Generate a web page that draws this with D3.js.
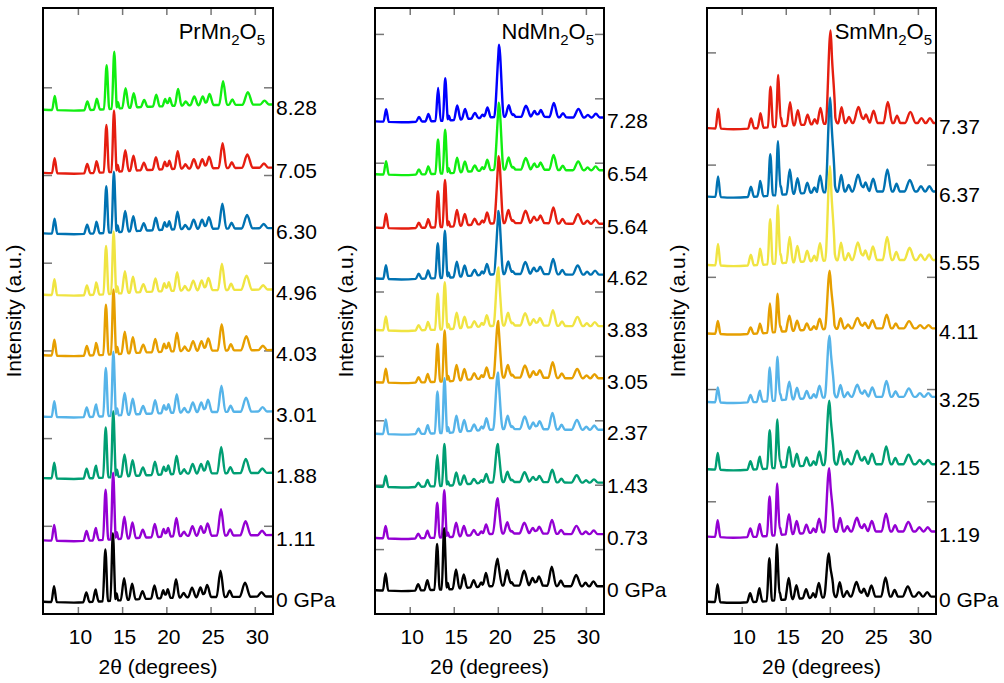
<!DOCTYPE html>
<html><head><meta charset="utf-8">
<script src="https://cdn.jsdelivr.net/npm/d3@7"></script>
<style>body{margin:0;background:#fff} text{font-family:"Liberation Sans",Arial,Helvetica,sans-serif;fill:#000}</style>
</head><body><svg id="chart" width="1004" height="683"></svg>
<script>
// ---------- shared ----------
const xTicks = [10, 15, 20, 25, 30];

// ---------- PrMn2O5 ----------
const prLabels = ["0 GPa", "1.11", "1.88", "3.01", "4.03", "4.96", "6.30", "7.05", "8.28"];
const prColors = ["#000000", "#9400d3", "#009e73", "#56b4e9", "#e69f00", "#f0e442", "#0072b2", "#e51e10", "#11ee11"];
const prOffsets = [14, 84, 155, 225, 295, 364, 434, 503, 575];
const prStrain = [0, 0.002, 0.003, 0.004, 0.005, 0.006, 0.008, 0.009, 0.011];
const prMinorScale = [1, 1, 1, 1, 1, 1, 0.95, 0.95, 0.9];
const prPeakPos = [7.25, 10.9, 11.95, 14.32, 15.17, 16.08, 17.25, 18.6, 19.6, 20.1, 21.04, 21.9, 22.85, 23.8, 24.56, 26.07, 27.1, 28.84, 30.7];
const prPeakHeight = [18, 11, 14, 8, 25, 18, 9, 15, 9, 10, 21, 5, 11, 11, 14, 30, 7, 16, 5];
const prPeakWidth = [0.3, 0.35, 0.35, 0.18, 0.38, 0.38, 0.38, 0.38, 0.32, 0.32, 0.38, 0.38, 0.45, 0.45, 0.45, 0.45, 0.38, 0.6, 0.5];
const prMainPos = [13.05, 13.9];
const prMainWidth = [0.3, 0.28];
const prMainHeights = [[59, 77], [57, 76], [57, 75], [55, 73], [57, 74], [55, 71], [53, 69], [54, 70], [50, 65]];
const prBgX = [6, 9.5, 12, 17, 22, 32];
const prBgY = [0, -1, 0, 3, 5, 6];

// ---------- NdMn2O5 ----------
const ndLabels = ["0 GPa", "0.73", "1.43", "2.37", "3.05", "3.83", "4.62", "5.64", "6.54", "7.28"];
const ndColors = ["#000000", "#9400d3", "#009e73", "#56b4e9", "#e69f00", "#f0e442", "#0072b2", "#e51e10", "#11ee11", "#0000ff"];
const ndOffsets = [37, 118, 198, 280, 360, 441, 521, 600, 683, 765];
const ndStrain = [0, 0.001, 0.002, 0.003, 0.004, 0.005, 0.006, 0.007, 0.008, 0.009];
const ndMinorScale = [1.1, 0.8, 0.72, 0.95, 0.9, 0.9, 0.88, 0.92, 0.86, 0.82];
const ndPeakPos = [7.2, 10.9, 11.95, 14.26, 15.2, 16.08, 17.2, 18.05, 18.6, 21.0, 21.5, 22.93, 23.9, 24.6, 26.07, 27.1, 28.84, 29.9, 30.8];
const ndPeakHeight = [24, 9, 14, 9, 27, 19, 10, 6, 19, 22, 5, 21, 11, 13, 27, 8, 16, 5, 7];
const ndPeakWidth = [0.3, 0.35, 0.35, 0.18, 0.38, 0.38, 0.38, 0.3, 0.38, 0.42, 0.3, 0.55, 0.45, 0.45, 0.5, 0.38, 0.6, 0.38, 0.45];
const ndMainPos = [13.05, 13.85, 19.9];
const ndMainWidth = [0.3, 0.28, 0.55];
const ndMainHeights = [[71, 95, 42], [54, 73, 55], [48, 65, 59], [65, 85, 88], [59, 79, 88], [56, 73, 90], [54, 73, 98], [56, 73, 104], [53, 68, 104], [51, 66, 112]];
const ndBgX = [6, 9, 12, 14.5, 17, 20, 25, 28, 32];
const ndBgY = [0, -1.5, 0, 1.5, 4.5, 7, 7, 6, 6];

// ---------- SmMn2O5 ----------
const smLabels = ["0 GPa", "1.19", "2.15", "3.25", "4.11", "5.55", "6.37", "7.37"];
const smColors = ["#000000", "#9400d3", "#009e73", "#56b4e9", "#e69f00", "#f0e442", "#0072b2", "#e51e10"];
const smOffsets = [11, 69, 129, 189, 250, 311, 372, 433];
const smStrain = [0, 0.002, 0.003, 0.004, 0.005, 0.007, 0.008, 0.01];
const smMinorScale = [1, 0.94, 0.93, 0.83, 0.72, 1.2, 1.15, 1.1];
const smPeakPos = [7.2, 10.9, 11.95, 14.26, 15.28, 16.15, 17.25, 18.05, 18.7, 20.3, 21.07, 21.9, 22.97, 23.8, 24.67, 26.27, 27.3, 28.8, 30.05, 31.0];
const smPeakHeight = [16, 8, 12, 7, 19, 12, 8, 4, 13, 6, 13, 5, 13, 7, 10, 17, 6, 9, 4, 4];
const smPeakWidth = [0.3, 0.35, 0.35, 0.18, 0.38, 0.38, 0.38, 0.3, 0.38, 0.3, 0.38, 0.38, 0.6, 0.45, 0.45, 0.5, 0.38, 0.6, 0.45, 0.45];
const smMainPos = [13.08, 13.95, 19.83];
const smMainWidth = [0.3, 0.28, 0.55];
const smMainHeights = [[38, 50, 39], [35, 46, 57], [34, 43, 57], [30, 39, 55], [26, 34, 52], [40, 52, 84], [37, 48, 84], [36, 46, 83]];
const smBgX = [6, 9, 12, 15, 18, 22, 32];
const smBgY = [0, -1, 0, 2, 3.5, 4.5, 4.5];

// ---------- layout ----------
const frameTop = 8, frameBottom = 614;
const panels = [
  {name: "Pr", x0: 43, x1: 273, yMax: 691, titleX: 265, labels: prLabels, colors: prColors, offsets: prOffsets, strain: prStrain, minor: prMinorScale,
   peakPos: prPeakPos, peakH: prPeakHeight, peakW: prPeakWidth, mainPos: prMainPos, mainW: prMainWidth, mainH: prMainHeights, bgX: prBgX, bgY: prBgY},
  {name: "Nd", x0: 375, x1: 604, yMax: 941, titleX: 594, labels: ndLabels, colors: ndColors, offsets: ndOffsets, strain: ndStrain, minor: ndMinorScale,
   peakPos: ndPeakPos, peakH: ndPeakHeight, peakW: ndPeakWidth, mainPos: ndMainPos, mainW: ndMainWidth, mainH: ndMainHeights, bgX: ndBgX, bgY: ndBgY},
  {name: "Sm", x0: 707, x1: 936, yMax: 540, titleX: 932, labels: smLabels, colors: smColors, offsets: smOffsets, strain: smStrain, minor: smMinorScale,
   peakPos: smPeakPos, peakH: smPeakHeight, peakW: smPeakWidth, mainPos: smMainPos, mainW: smMainWidth, mainH: smMainHeights, bgX: smBgX, bgY: smBgY}
];

const svg = d3.select("#chart");
const xMin = 6, xMax = 32, xStart = 6.1;

panels.forEach((p, pi) => {
  const x = d3.scaleLinear().domain([xMin, xMax]).range([p.x0, p.x1]);
  const y = d3.scaleLinear().domain([0, p.yMax]).range([frameBottom, frameTop]);
  const bg = d3.scaleLinear().domain(p.bgX).range(p.bgY);
  const g = svg.append("g");

  const clipId = "clip" + pi;
  svg.append("defs").append("clipPath").attr("id", clipId)
    .append("rect").attr("x", p.x0).attr("y", frameTop).attr("width", p.x1 - p.x0).attr("height", frameBottom - frameTop);

  // ticks (inward)
  const tickG = g.append("g").attr("stroke", "#777").attr("stroke-width", 1.5);
  const yTicks = d3.range(100, p.yMax, 100);
  yTicks.forEach(t => {
    tickG.append("line").attr("x1", p.x0).attr("x2", p.x0 + 9).attr("y1", y(t)).attr("y2", y(t));
    tickG.append("line").attr("x1", p.x1).attr("x2", p.x1 - 9).attr("y1", y(t)).attr("y2", y(t));
  });
  xTicks.forEach(t => {
    tickG.append("line").attr("x1", x(t)).attr("x2", x(t)).attr("y1", frameBottom).attr("y2", frameBottom - 7);
    tickG.append("line").attr("x1", x(t)).attr("x2", x(t)).attr("y1", frameTop).attr("y2", frameTop + 7);
  });

  // curves
  const line = d3.line().x(d => x(d[0])).y(d => y(d[1])).curve(d3.curveMonotoneX);
  const curves = p.labels.map((lab, i) => {
    const s = 1 + p.strain[i];
    const peaks = p.peakPos.map((pos, k) => ({pos: pos * s, h: p.peakH[k] * p.minor[i], w: p.peakW[k]}))
      .concat(p.mainPos.map((pos, k) => ({pos: pos * s, h: p.mainH[i][k], w: p.mainW[k]})));
    const xs = new Set(p.bgX.concat([xStart, xMax]));
    peaks.forEach(pk => { xs.add(pk.pos - pk.w); xs.add(pk.pos); xs.add(pk.pos + pk.w); });
    const sorted = [...xs].filter(v => v >= xStart && v <= xMax).sort((a, b) => a - b);
    return sorted.map(v => [v, p.offsets[i] + bg(v) + d3.sum(peaks, pk => Math.max(0, 1 - Math.abs(v - pk.pos) / pk.w) * pk.h)]);
  });

  const cg = g.append("g").attr("clip-path", `url(#${clipId})`);
  for (let i = p.labels.length - 1; i >= 0; i--) {
    cg.append("path").datum(curves[i]).attr("d", line)
      .attr("fill", "none").attr("stroke", p.colors[i]).attr("stroke-width", 2.4)
      .attr("stroke-linejoin", "round");
  }

  // pressure labels
  p.labels.forEach((lab, i) => {
    g.append("text").attr("x", p.x1 + 3).attr("y", y(p.offsets[i] + bg(xMax)) + 3)
      .attr("dominant-baseline", "central").attr("font-size", 21).text(lab);
  });

  // frame
  g.append("rect").attr("x", p.x0).attr("y", frameTop).attr("width", p.x1 - p.x0).attr("height", frameBottom - frameTop)
    .attr("fill", "none").attr("stroke", "#000").attr("stroke-width", 2);

  // x tick labels
  xTicks.forEach(t => {
    g.append("text").attr("x", x(t) + 2).attr("y", 644).attr("text-anchor", "middle").attr("font-size", 21).text(t);
  });
  // x label
  g.append("text").attr("x", (p.x0 + p.x1) / 2).attr("y", 674).attr("text-anchor", "middle").attr("font-size", 21).text("2θ (degrees)");
  // y label
  g.append("text").attr("transform", `translate(${p.x0 - 22},${(frameTop + frameBottom) / 2}) rotate(-90)`)
    .attr("text-anchor", "middle").attr("font-size", 21).text("Intensity (a.u.)");

  // title
  const tt = g.append("text").attr("x", p.titleX).attr("y", 39).attr("text-anchor", "end").attr("font-size", 22);
  tt.append("tspan").text(p.name + "Mn");
  tt.append("tspan").attr("font-size", 15).attr("dy", 6).text("2");
  tt.append("tspan").attr("dy", -6).text("O");
  tt.append("tspan").attr("font-size", 15).attr("dy", 6).text("5");
});
</script></body></html>
